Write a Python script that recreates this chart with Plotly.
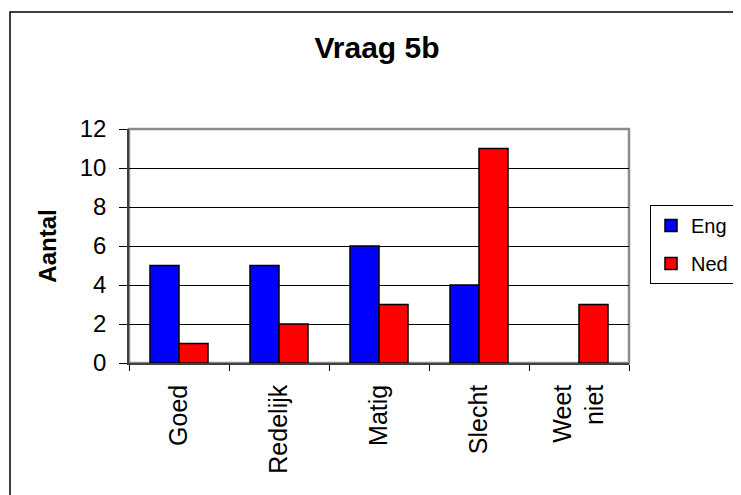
import plotly.graph_objects as go

categories = ['Goed', 'Redelijk', 'Matig', 'Slecht', 'Weet<br>niet']
eng = [5, 5, 6, 4, None]
ned = [1, 2, 3, 11, 3]

FONT = 'Liberation Sans, Arial, sans-serif'

# page has an 8px body margin, so figure coords = page coords - 8
OFF = 8

fig = go.Figure()
fig.add_trace(go.Bar(x=categories, y=eng, name='Eng', legendgroup='eng',
                     marker=dict(color='#0000FF', line=dict(color='black', width=1.5))))
fig.add_trace(go.Bar(x=categories, y=ned, name='Ned', legendgroup='ned',
                     marker=dict(color='#FF0000', line=dict(color='black', width=1.5))))

fig.update_layout(
    width=741, height=495,
    margin=dict(l=129 - OFF, r=741 - 629 + OFF, t=129 - OFF, b=495 - 363 + OFF),
    paper_bgcolor='white', plot_bgcolor='white',
    font=dict(family=FONT, color='black'),
    barmode='group', bargap=0.42, bargroupgap=0,
    title=dict(text='<b>Vraag 5b</b>', font=dict(size=30, family=FONT),
               x=(377 - OFF) / 741, xref='container', xanchor='center',
               y=1 - (47 - OFF) / 495, yref='container', yanchor='middle'),
    legend=dict(x=1.042, y=0.675, xanchor='left', yanchor='top',
                bordercolor='black', borderwidth=1, bgcolor='white',
                font=dict(size=20, family=FONT),
                traceorder='grouped', tracegroupgap=9),
    showlegend=True,
)

fig.update_xaxes(
    type='category', tickson='boundaries', ticks='outside', ticklen=6,
    tickcolor='black', tickwidth=1,
    showline=True, linecolor='#404040', linewidth=1.5,
    tickangle=-90, tickfont=dict(size=25, family=FONT),
    ticklabelstandoff=10,
    showgrid=False,
)
fig.update_yaxes(
    range=[0, 12], dtick=2, ticks='outside', ticklen=8,
    tickcolor='black', tickwidth=1,
    showline=True, linecolor='#404040', linewidth=1.5,
    showgrid=True, gridcolor='black', gridwidth=1, zeroline=False,
    tickfont=dict(size=24, family=FONT),
    ticklabelstandoff=8,
    title=dict(text='<b>Aantal</b>', font=dict(size=24, family=FONT), standoff=16),
)

# grey frame around plot area (top/right) and outer chart border
fig.add_shape(type='rect', xref='paper', yref='paper', x0=0, x1=1, y0=0, y1=1,
              line=dict(color='#8c8c8c', width=2.5), layer='below')
fig.add_shape(type='rect', xref='paper', yref='paper',
              x0=(10 - 129) / 500, x1=(780 - 129) / 500,
              y0=(363 - 540) / 234, y1=(363 - 12) / 234,
              line=dict(color='black', width=1.5), layer='below')

fig.write_html('out.html')
